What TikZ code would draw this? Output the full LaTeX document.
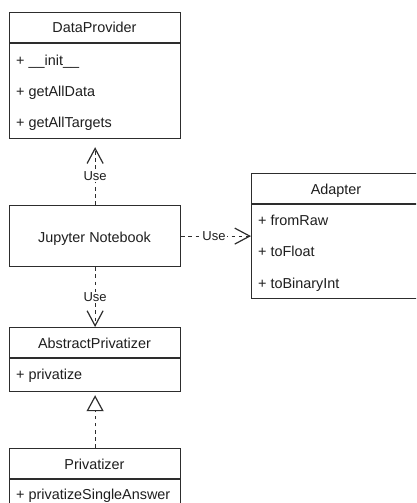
\documentclass[tikz,border=0pt]{standalone}
\usepackage{fontspec}
\setmainfont{Liberation Sans}
\usetikzlibrary{arrows.meta}
\definecolor{linegray}{RGB}{45,45,45}
\definecolor{textgray}{RGB}{30,30,30}
\begin{document}
\begin{tikzpicture}[x=1pt,y=-1pt,
  classbox/.style={draw=linegray, line width=1.2pt, fill=white, inner sep=0pt,
    minimum width=171pt, anchor=north west},
  sep/.style={draw=linegray, line width=1.2pt},
  cname/.style={font=\fontsize{14.4}{17}\selectfont, text=textgray, inner sep=0pt, anchor=base},
  member/.style={font=\fontsize{14.4}{17}\selectfont, text=textgray, inner sep=0pt, anchor=base west},
  dep/.style={draw=linegray, line width=1.2pt, dash pattern=on 3.6pt off 3.6pt,
    -{Straight Barb[length=15pt,width=16pt,line width=1.2pt]}},
  realize/.style={draw=linegray, line width=1.2pt, dash pattern=on 3.6pt off 3.6pt,
    -{Triangle[open,length=16pt,width=17pt,line width=1.2pt,fill=white]}},
  uselabel/.style={fill=white, text=textgray, font=\fontsize{13}{15}\selectfont, inner sep=1pt}
]
\useasboundingbox (0,0) rectangle (416,503);
\clip (0,0) rectangle (416,503);

% DataProvider
\node[classbox, minimum height=126pt] (dp) at (9,12) {};
\draw[sep] ([yshift=-31pt]dp.north west) -- ([yshift=-31pt]dp.north east);
\node[cname] (dpname) at (94.5,33) {DataProvider};
\node[member] (dp1) at (16,65.5) {+ \_\_init\_\_};
\node[member] (dp2) at (16,96) {+ getAllData};
\node[member] (dp3) at (16,127) {+ getAllTargets};

% Jupyter Notebook
\node[classbox, minimum height=61pt] (jn) at (9,205) {};
\node[cname] (jnname) at (94.5,242) {Jupyter Notebook};

% Adapter
\node[classbox, minimum width=170pt, minimum height=125pt] (ad) at (251,173) {};
\draw[sep] ([yshift=-31pt]ad.north west) -- ([yshift=-31pt]ad.north east);
\node[cname] (adname) at (336,194) {Adapter};
\node[member] (ad1) at (258,225.5) {+ fromRaw};
\node[member] (ad2) at (258,256.5) {+ toFloat};
\node[member] (ad3) at (258,288) {+ toBinaryInt};

% AbstractPrivatizer
\node[classbox, minimum height=64pt] (ap) at (9,327) {};
\draw[sep] ([yshift=-31pt]ap.north west) -- ([yshift=-31pt]ap.north east);
\node[cname] (apname) at (94.5,348.5) {AbstractPrivatizer};
\node[member] (ap1) at (16,379.5) {+ privatize};

% Privatizer
\node[classbox, minimum height=70pt] (pv) at (9,448) {};
\draw[sep] ([yshift=-31pt]pv.north west) -- ([yshift=-31pt]pv.north east);
\node[cname] (pvname) at (94.5,469) {Privatizer};
\node[member] (pv1) at (16,499) {+ privatizeSingleAnswer};

% Dependencies
\draw[dep] (jn.north) -- ([yshift=-8pt]dp.south) node[uselabel, pos=0.5] {Use};
\draw[dep] (jn.south) -- (ap.north) node[uselabel, pos=0.5] {Use};
\draw[dep] (jn.east) -- (ad.west) node[uselabel, pos=0.47] {Use};

% Realization
\draw[realize] (pv.north) -- ([yshift=-3pt]ap.south);
\end{tikzpicture}
\end{document}
